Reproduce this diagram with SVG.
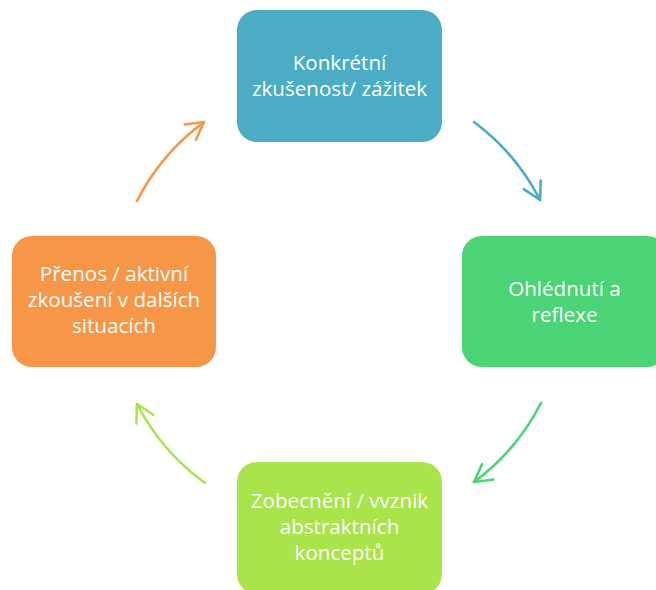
<svg xmlns="http://www.w3.org/2000/svg" width="656" height="590" viewBox="0 0 656 590">
<style>
.lbl{font-family:"Open Sans","Noto Sans","Liberation Sans",sans-serif;font-size:20.6px;fill:#ffffff;text-anchor:middle}
.arc{fill:none;stroke-width:2.6;stroke-linecap:round}
.head{fill:none;stroke-width:2.6;stroke-linecap:round;stroke-linejoin:round}
</style>
<defs>
<marker id="mBlue" markerUnits="userSpaceOnUse" markerWidth="40" markerHeight="40" viewBox="-20 -20 40 40" refX="0" refY="0" orient="auto"><path class="head" d="M-17,-9.5 L0,0 L-17,9.5" stroke="#4BACC6"/></marker>
<marker id="mGreen" markerUnits="userSpaceOnUse" markerWidth="40" markerHeight="40" viewBox="-20 -20 40 40" refX="0" refY="0" orient="auto"><path class="head" d="M-17,-9.5 L0,0 L-17,9.5" stroke="#4AD475"/></marker>
<marker id="mLime" markerUnits="userSpaceOnUse" markerWidth="40" markerHeight="40" viewBox="-20 -20 40 40" refX="0" refY="0" orient="auto"><path class="head" d="M-17,-9.5 L0,0 L-17,9.5" stroke="#A9E44B"/></marker>
<marker id="mOrange" markerUnits="userSpaceOnUse" markerWidth="40" markerHeight="40" viewBox="-20 -20 40 40" refX="0" refY="0" orient="auto"><path class="head" d="M-17,-9.5 L0,0 L-17,9.5" stroke="#F79646"/></marker>
</defs>
<rect width="656" height="590" fill="#ffffff"/>
<g id="connectors">
<path class="arc" stroke="#4BACC6" marker-end="url(#mBlue)" d="M474,122 A225,225 0 0 1 540,200"/>
<path class="arc" stroke="#4AD475" marker-end="url(#mGreen)" d="M541,403 A225,225 0 0 1 474,482"/>
<path class="arc" stroke="#A9E44B" marker-end="url(#mLime)" d="M205,483 A225,225 0 0 1 137,404"/>
<path class="arc" stroke="#F79646" marker-end="url(#mOrange)" d="M137,201 A225,225 0 0 1 204,122"/>
</g>
<g id="node-top">
<rect x="237" y="10" width="205" height="132" rx="20" fill="#4BACC6"/>
<text class="lbl" x="339.5" y="70">Konkrétní</text>
<text class="lbl" x="339.5" y="96">zkušenost/ zážitek</text>
</g>
<g id="node-right">
<rect x="462" y="236" width="205" height="131" rx="20" fill="#4AD475"/>
<text class="lbl" x="564.5" y="296">Ohlédnutí a</text>
<text class="lbl" x="564.5" y="322">reflexe</text>
</g>
<g id="node-bottom">
<rect x="237" y="462" width="205" height="132" rx="20" fill="#A9E44B"/>
<text class="lbl" x="339.5" y="508">Zobecnění / vvznik</text>
<text class="lbl" x="339.5" y="534">abstraktních</text>
<text class="lbl" x="339.5" y="560">konceptů</text>
</g>
<g id="node-left">
<rect x="12" y="236" width="204" height="131" rx="20" fill="#F79646"/>
<text class="lbl" x="114" y="281">Přenos / aktivní</text>
<text class="lbl" x="114" y="307">zkoušení v dalších</text>
<text class="lbl" x="114" y="333">situacích</text>
</g>
</svg>
